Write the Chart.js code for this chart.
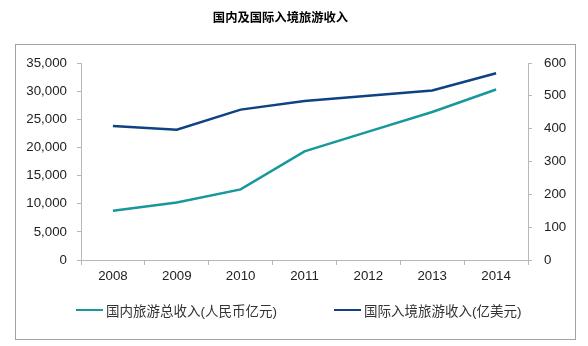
<!DOCTYPE html>
<html>
<head>
<meta charset="utf-8">
<script src="https://cdn.jsdelivr.net/npm/chart.js@4/dist/chart.umd.min.js"></script>
<style>
  html, body { margin: 0; padding: 0; background: #fff; }
  #wrap { position: relative; width: 588px; height: 346px; }
  #title {
    position: absolute; left: 0; top: 10px; width: 561px; text-align: center;
    font-family: 'Liberation Sans', Arial, 'Noto Sans CJK SC', sans-serif;
    font-size: 12.3px; font-weight: bold; line-height: 16px; color: #000;
  }
  #frame {
    position: absolute; left: 15px; top: 44px; width: 559px; height: 294px;
    border: 1px solid #a3a3a3; pointer-events: none;
  }
  .legend-item {
    position: absolute; top: 302px; height: 16px; display: flex; align-items: center;
    font-family: 'Liberation Sans', Arial, 'Noto Sans CJK SC', sans-serif;
    font-size: 13.5px; color: #333; white-space: nowrap;
  }
  .legend-item .swatch { width: 27px; height: 2.5px; margin-right: 3px; }
</style>
</head>
<body>
<div id="wrap">
  <div id="title">国内及国际入境旅游收入</div>
  <canvas id="chart" width="588" height="346"></canvas>
  <div id="frame"></div>
  <div id="legend"></div>
</div>
<script>
  // data
  const years = ["2008", "2009", "2010", "2011", "2012", "2013", "2014"];
  const domesticIncome = [8750, 10200, 12550, 19300, 22800, 26300, 30300]; // 人民币亿元
  const inboundIncome = [408, 397, 458, 484, 500, 516, 569]; // 亿美元
  const seriesNames = ["国内旅游总收入(人民币亿元)", "国际入境旅游收入(亿美元)"];

  const teal = "#17989c";
  const navy = "#0e4283";
  const axisGray = "#b8b8b8";
  const fontFamily = "'Liberation Sans', Arial, 'Noto Sans CJK SC', sans-serif";
  const tickFont = { family: fontFamily, size: 13.3 };

  const ctx = document.getElementById("chart").getContext("2d");
  const chart = new Chart(ctx, {
    type: "line",
    data: {
      labels: years,
      datasets: [
        {
          label: seriesNames[0],
          data: domesticIncome,
          borderColor: teal,
          backgroundColor: teal,
          borderWidth: 2.5,
          pointRadius: 0,
          tension: 0,
          yAxisID: "y"
        },
        {
          label: seriesNames[1],
          data: inboundIncome,
          borderColor: navy,
          backgroundColor: navy,
          borderWidth: 2.5,
          pointRadius: 0,
          tension: 0,
          yAxisID: "y1"
        }
      ]
    },
    options: {
      responsive: false,
      animation: false,
      layout: { padding: { left: 0, right: 8, top: 63, bottom: 0 } },
      plugins: {
        legend: { display: false },
        tooltip: { enabled: false }
      },
      scales: {
        x: {
          offset: true,
          grid: { offset: true, drawOnChartArea: false, color: axisGray, tickLength: 5 },
          border: { color: axisGray },
          ticks: { color: "#222", font: tickFont, padding: 3 },
          afterFit: s => { s.height = 86; }
        },
        y: {
          position: "left",
          min: 0,
          max: 35000,
          ticks: {
            stepSize: 5000,
            color: "#222",
            font: tickFont,
            padding: 10,
            callback: v => v.toLocaleString("en-US")
          },
          grid: { drawOnChartArea: false, color: axisGray, tickLength: 4 },
          border: { color: axisGray },
          afterFit: s => { s.width = 81; }
        },
        y1: {
          position: "right",
          min: 0,
          max: 600,
          ticks: {
            stepSize: 100,
            color: "#222",
            font: tickFont,
            padding: 12
          },
          grid: { drawOnChartArea: false, color: axisGray, tickLength: 4 },
          border: { color: axisGray },
          afterFit: s => { s.width = 52; }
        }
      }
    }
  });

  // HTML legend built from the datasets
  const legendLeft = [76, 334];
  const legendEl = document.getElementById("legend");
  chart.data.datasets.forEach((ds, i) => {
    const item = document.createElement("div");
    item.className = "legend-item";
    item.style.left = legendLeft[i] + "px";
    const sw = document.createElement("span");
    sw.className = "swatch";
    sw.style.background = ds.borderColor;
    const txt = document.createElement("span");
    txt.textContent = ds.label;
    item.appendChild(sw);
    item.appendChild(txt);
    legendEl.appendChild(item);
  });
</script>
</body>
</html>
